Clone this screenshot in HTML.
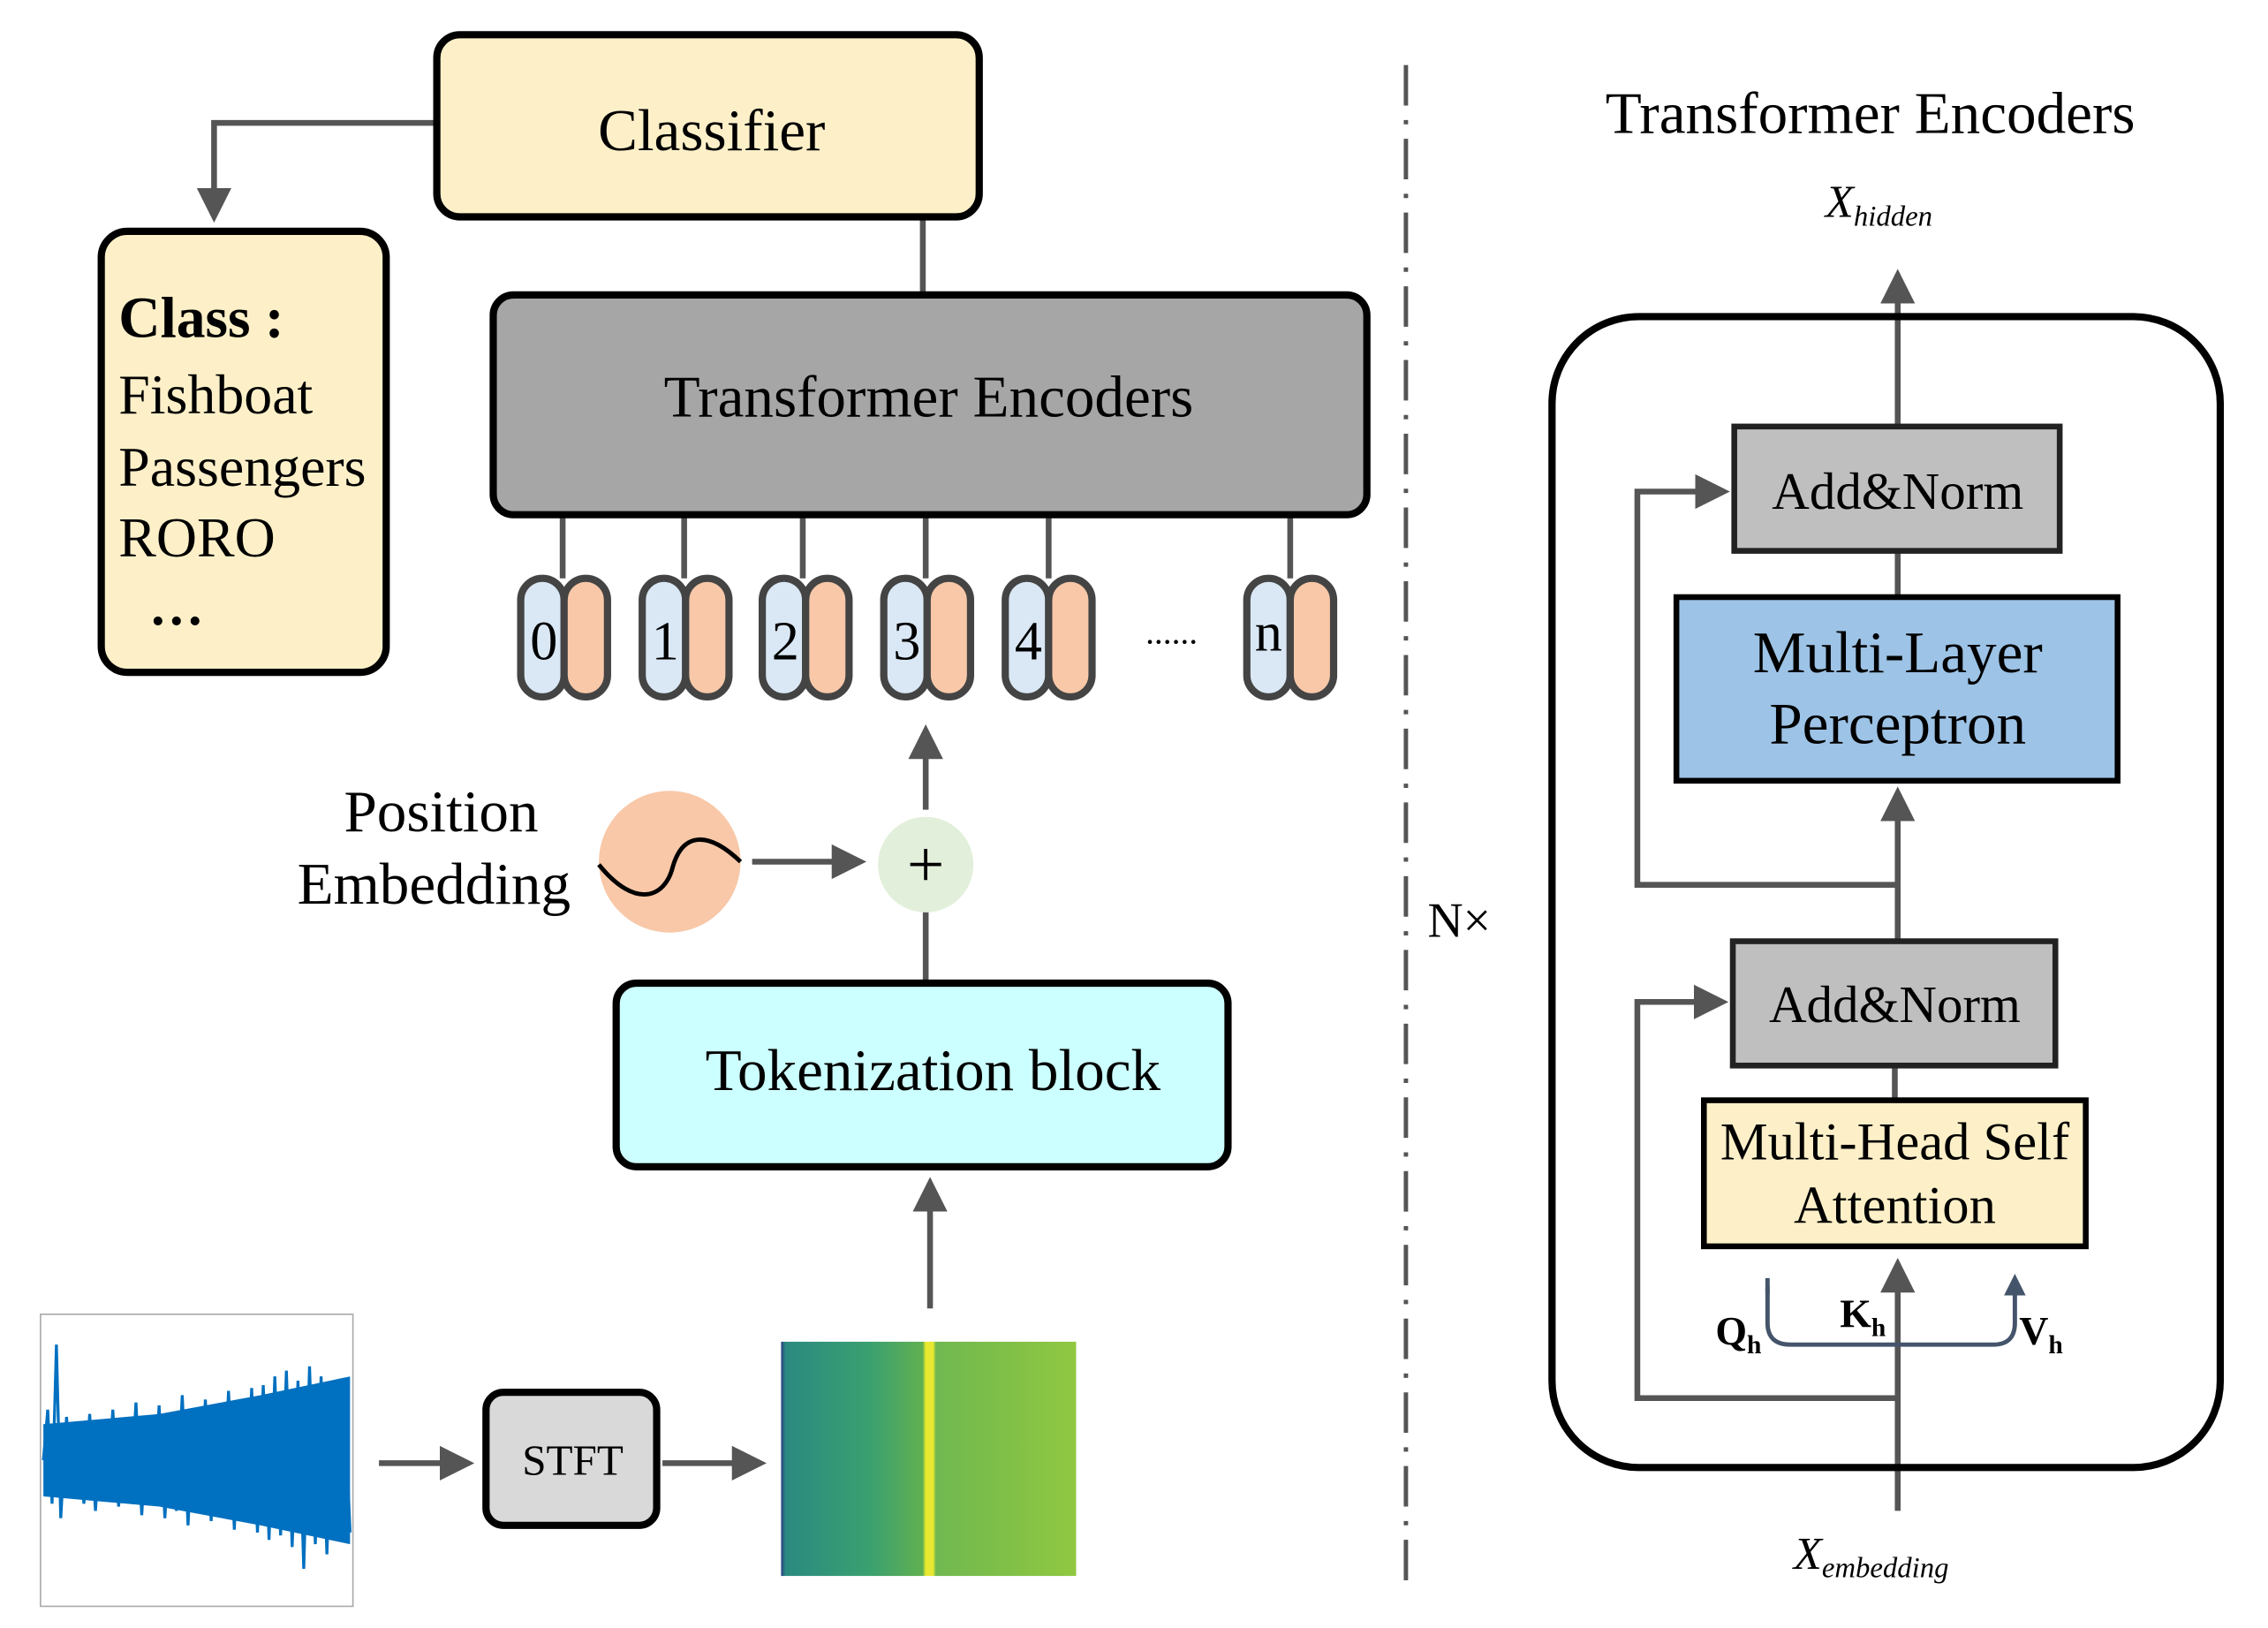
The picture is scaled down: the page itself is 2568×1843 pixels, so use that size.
<!DOCTYPE html>
<html><head><meta charset="utf-8"><style>html,body{margin:0;padding:0;background:#fff}svg{display:block}</style></head>
<body>
<svg width="2568" height="1843" viewBox="0 0 1568 1126" preserveAspectRatio="none" xmlns="http://www.w3.org/2000/svg" font-family="Liberation Serif, serif">
<defs>
<marker id="ah" markerWidth="6" markerHeight="6" refX="5" refY="3" orient="auto" markerUnits="strokeWidth"><path d="M0,0 L6,3 L0,6 z" fill="#555"/></marker>
<marker id="ah2" markerWidth="5" markerHeight="5" refX="4" refY="2.5" orient="auto" markerUnits="strokeWidth"><path d="M0,0 L5,2.5 L0,5 z" fill="#44546a"/></marker>
<linearGradient id="sp" x1="0" x2="1" y1="0" y2="0">
<stop offset="0" stop-color="#2a3f80"/><stop offset="0.015" stop-color="#2a8a80"/><stop offset="0.3" stop-color="#3aa070"/><stop offset="0.48" stop-color="#60b050"/><stop offset="0.49" stop-color="#e8e830"/><stop offset="0.515" stop-color="#e8e830"/><stop offset="0.525" stop-color="#70b850"/><stop offset="1" stop-color="#90c840"/></linearGradient>
</defs>
<g stroke="#555" stroke-width="4" fill="none">
<path d="M302,85 H148 V150" marker-end="url(#ah)"/>
<path d="M638,150 V205"/>
<path d="M640,560 V505" marker-end="url(#ah)"/>
<path d="M520,596 H595" marker-end="url(#ah)"/>
<path d="M640,631 V680"/>
<path d="M643,905 V818" marker-end="url(#ah)"/>
<path d="M262,1012 H324" marker-end="url(#ah)"/>
<path d="M458,1012 H526" marker-end="url(#ah)"/>
<path d="M389,356 V400 M473,356 V400 M555,356 V400 M640,356 V400 M725,356 V400 M892,356 V400"/>
<path d="M1312,295 V190" marker-end="url(#ah)"/>
<path d="M1312,381 V413"/>
<path d="M1312,650 V548" marker-end="url(#ah)"/>
<path d="M1312,612 H1132 V340 H1192" marker-end="url(#ah)"/>
<path d="M1312,967 H1132 V693 H1191" marker-end="url(#ah)"/>
<path d="M1310,737 V761"/>
<path d="M1312,1045 V874" marker-end="url(#ah)"/>
</g>
<path d="M972,45 V1095" stroke="#555" stroke-width="3" stroke-dasharray="28,10,3,10"/>
<rect x="302" y="24" width="375" height="126" rx="16" fill="#fdf0c8" stroke="#000" stroke-width="5"/>
<text x="492" y="104" font-size="41" text-anchor="middle">Classifier</text>
<rect x="70" y="160" width="197" height="305" rx="18" fill="#fdf0c8" stroke="#000" stroke-width="5"/>
<text x="82" y="233" font-size="40" font-weight="bold">Class :</text>
<text x="82" y="286" font-size="39">Fishboat</text>
<text x="82" y="336" font-size="39">Passengers</text>
<text x="82" y="385" font-size="39">RORO</text>
<text x="103" y="432" font-size="38" font-weight="bold">…</text>
<rect x="341" y="204" width="604" height="152" rx="14" fill="#a6a6a6" stroke="#000" stroke-width="5"/>
<text x="642" y="288" font-size="41" text-anchor="middle">Transformer Encoders</text>
<g stroke="#444" stroke-width="5">
<rect x="360" y="400" width="30" height="82" rx="15" fill="#dae8f5"/><rect x="390" y="400" width="30" height="82" rx="15" fill="#f8c8a8"/>
<rect x="444" y="400" width="30" height="82" rx="15" fill="#dae8f5"/><rect x="474" y="400" width="30" height="82" rx="15" fill="#f8c8a8"/>
<rect x="527" y="400" width="30" height="82" rx="15" fill="#dae8f5"/><rect x="557" y="400" width="30" height="82" rx="15" fill="#f8c8a8"/>
<rect x="611" y="400" width="30" height="82" rx="15" fill="#dae8f5"/><rect x="641" y="400" width="30" height="82" rx="15" fill="#f8c8a8"/>
<rect x="695" y="400" width="30" height="82" rx="15" fill="#dae8f5"/><rect x="725" y="400" width="30" height="82" rx="15" fill="#f8c8a8"/>
<rect x="862" y="400" width="30" height="82" rx="15" fill="#dae8f5"/><rect x="892" y="400" width="30" height="82" rx="15" fill="#f8c8a8"/>
</g>
<g font-size="38" text-anchor="middle">
<text x="376" y="456">0</text><text x="460" y="456">1</text><text x="543" y="456">2</text><text x="627" y="456">3</text><text x="711" y="456">4</text><text x="877" y="450">n</text>
</g>
<text x="810" y="445" font-size="24" text-anchor="middle">......</text>
<circle cx="640" cy="598" r="33" fill="#e2efdb"/>
<text x="640" y="613" font-size="46" text-anchor="middle">+</text>
<text x="305" y="575" font-size="41" text-anchor="middle">Position</text>
<text x="300" y="625" font-size="41" text-anchor="middle">Embedding</text>
<circle cx="463" cy="596" r="49" fill="#f8c8a8"/>
<path d="M414,598 C440,630 460,620 465,600 C472,575 490,575 512,596" stroke="#000" stroke-width="3" fill="none"/>
<rect x="426" y="680" width="423" height="127" rx="14" fill="#ccffff" stroke="#000" stroke-width="5"/>
<text x="645" y="754" font-size="41" text-anchor="middle">Tokenization block</text>
<rect x="28" y="909" width="216" height="202" fill="#fff" stroke="#aaa" stroke-width="1"/>
<path d="M30,985 L110,978 L180,965 L242,952 L242,1068 L180,1055 L110,1042 L30,1035 Z" fill="#0070c0"/>
<path d="M30,1010 L33,975 L36,1040 L39,930 L42,1050 L46,980 L50,1035 L54,985 L58,1040 L62,978 L66,1045 L70,982 L74,1038 L78,975 L82,1042 L86,985 L90,1040 L94,970 L98,1048 L102,980 L106,1040 L110,972 L114,1050 L118,978 L122,1045 L126,965 L130,1055 L134,975 L138,1045 L142,968 L146,1052 L150,972 L154,1048 L158,962 L162,1058 L166,968 L170,1050 L174,960 L178,1060 L182,958 L186,1065 L190,952 L194,1062 L198,948 L202,1070 L206,955 L210,1085 L214,945 L218,1068 L222,952 L226,1075 L230,958 L234,1065 L238,962 L242,1060" stroke="#0070c0" stroke-width="2" fill="none"/>
<rect x="336" y="963" width="118" height="92" rx="12" fill="#d9d9d9" stroke="#000" stroke-width="5"/>
<text x="396" y="1020" font-size="30" text-anchor="middle">STFT</text>
<rect x="540" y="928" width="204" height="162" fill="url(#sp)"/>
<text x="987" y="648" font-size="34">N×</text>
<text x="1293" y="92" font-size="41" text-anchor="middle">Transformer Encoders</text>
<text x="1262" y="150" font-size="32" font-style="italic">X<tspan font-size="20" dy="6">hidden</tspan></text>
<rect x="1073" y="219" width="462" height="796" rx="60" fill="none" stroke="#000" stroke-width="5"/>
<rect x="1199" y="295" width="225" height="86" fill="#bfbfbf" stroke="#222" stroke-width="4"/>
<text x="1312" y="352" font-size="36" text-anchor="middle">Add&amp;Norm</text>
<rect x="1159" y="413" width="305" height="127" fill="#9dc3e6" stroke="#000" stroke-width="4"/>
<text x="1312" y="465" font-size="41" text-anchor="middle">Multi-Layer</text>
<text x="1312" y="514" font-size="41" text-anchor="middle">Perceptron</text>
<rect x="1198" y="651" width="223" height="86" fill="#bfbfbf" stroke="#222" stroke-width="4"/>
<text x="1310" y="707" font-size="36" text-anchor="middle">Add&amp;Norm</text>
<rect x="1178" y="761" width="264" height="101" fill="#fdf0c8" stroke="#000" stroke-width="4"/>
<text x="1310" y="802" font-size="37" text-anchor="middle">Multi-Head Self</text>
<text x="1310" y="846" font-size="37" text-anchor="middle">Attention</text>
<path d="M1222,890 V915 Q1222,930 1238,930 H1378 Q1393,930 1393,915 V890" stroke="#44546a" stroke-width="3" fill="none"/>
<path d="M1222,895 V884 M1393,895 V884" stroke="#44546a" stroke-width="3" marker-end="url(#ah2)"/>
<text x="1186" y="930" font-size="28" font-weight="bold">Q<tspan font-size="18" dy="6">h</tspan></text>
<text x="1272" y="918" font-size="28" font-weight="bold">K<tspan font-size="18" dy="6">h</tspan></text>
<text x="1396" y="930" font-size="28" font-weight="bold">V<tspan font-size="18" dy="6">h</tspan></text>
<text x="1240" y="1085" font-size="32" font-style="italic">X<tspan font-size="20" dy="6">embedding</tspan></text>
</svg>
</body></html>
